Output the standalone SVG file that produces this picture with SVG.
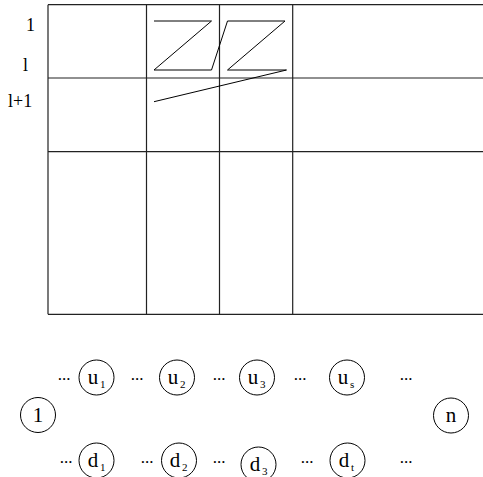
<svg xmlns="http://www.w3.org/2000/svg" width="483" height="477" viewBox="0 0 483 477" font-family="Liberation Serif, DejaVu Serif, serif">
<style>
.g{stroke:#222;stroke-width:1.2;fill:none}
.z{stroke:#000;stroke-width:1;fill:none}
.c{stroke:#000;stroke-width:1;fill:#fff}
text{fill:#000}
.lb{font-size:18px}
.n{font-size:21px;text-anchor:middle}
.s{font-size:11px}
.d{font-size:17px;text-anchor:middle}
</style>
<rect width="483" height="477" fill="#fff"/>
<g id="grid">
<path class="g" d="M48 4.7H483M48 78H483M48 151.7H483M48 314.3H483M48 4.7V314.3M146.5 4.7V314.3M219.5 4.7V314.3M292.7 4.7V314.3"/>
</g>
<g id="labels">
<text class="lb" x="26" y="31">1</text>
<text class="lb" x="23" y="71">l</text>
<text class="lb" x="8" y="107">l+1</text>
</g>
<g id="connectors">
<polyline class="z" points="154,21 211.5,21 154,70 211.5,70 227.5,21 285,21 227.5,70 286.5,70 154,101.7"/>
</g>
<g id="node-1"><circle class="c" cx="38" cy="415" r="17.5"/><text class="n" x="38" y="422">1</text></g>
<g id="node-u1"><circle class="c" cx="96.5" cy="377.5" r="17.5"/><text class="n" x="93" y="384">u</text><text class="s" x="100" y="388">1</text></g>
<g id="node-u2"><circle class="c" cx="177" cy="377.5" r="17.5"/><text class="n" x="173" y="384">u</text><text class="s" x="180" y="388">2</text></g>
<g id="node-u3"><circle class="c" cx="257" cy="377.5" r="17.5"/><text class="n" x="253" y="384">u</text><text class="s" x="260" y="388">3</text></g>
<g id="node-us"><circle class="c" cx="347" cy="377.5" r="17.5"/><text class="n" x="343" y="384">u</text><text class="s" x="350" y="388">s</text></g>
<g id="node-n"><circle class="c" cx="451" cy="415.5" r="17.5"/><text class="n" x="451" y="422">n</text></g>
<g id="node-d1"><circle class="c" cx="96.5" cy="460.5" r="17.5"/><text class="n" x="93" y="467">d</text><text class="s" x="100" y="471">1</text></g>
<g id="node-d2"><circle class="c" cx="179" cy="460.5" r="17.5"/><text class="n" x="175" y="467">d</text><text class="s" x="182" y="471">2</text></g>
<g id="node-d3"><circle class="c" cx="258.5" cy="464.5" r="17.5"/><text class="n" x="255" y="471">d</text><text class="s" x="262" y="475">3</text></g>
<g id="node-dt"><circle class="c" cx="347.5" cy="460.5" r="17.5"/><text class="n" x="344" y="467">d</text><text class="s" x="351" y="471">t</text></g>
<g id="dots">
<text class="d" x="64" y="380">...</text>
<text class="d" x="137" y="380">...</text>
<text class="d" x="219" y="380">...</text>
<text class="d" x="300" y="380">...</text>
<text class="d" x="406" y="380">...</text>
<text class="d" x="66" y="463">...</text>
<text class="d" x="147" y="463">...</text>
<text class="d" x="219" y="463">...</text>
<text class="d" x="307" y="463">...</text>
<text class="d" x="406" y="463">...</text>
</g>
</svg>
